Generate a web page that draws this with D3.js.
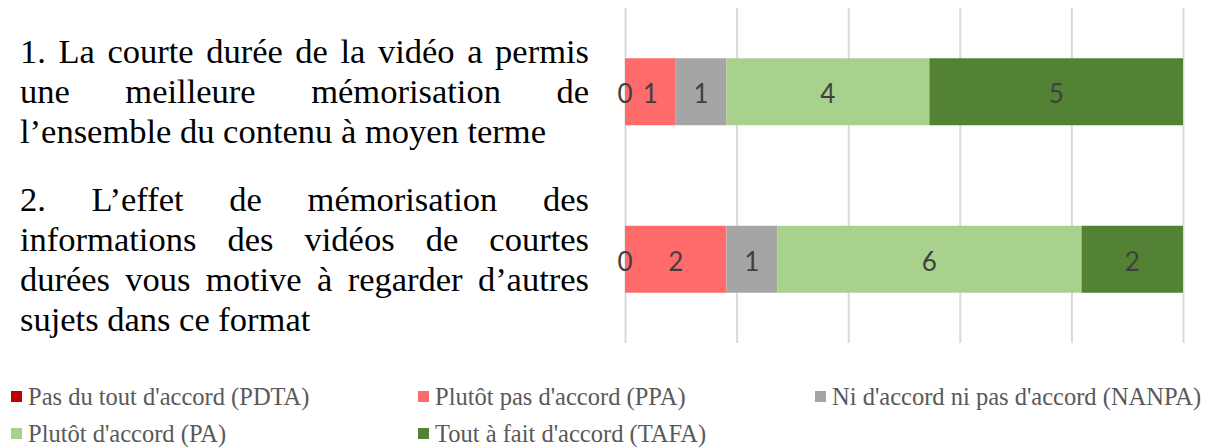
<!DOCTYPE html>
<html>
<head>
<meta charset="utf-8">
<script src="https://cdn.jsdelivr.net/npm/d3@7"></script>
<style>
	body { margin: 0; background: #fff; }
	svg { display: block; }
</style>
</head>
<body>
<div id="chart"></div>
<script>
// questions (left text, already split in lines as in the picture)
const questionLines = [
	['1. La courte durée de la vidéo a permis', 'une meilleure mémorisation de', 'l’ensemble du contenu à moyen terme'],
	['2. L’effet de mémorisation des', 'informations des vidéos de courtes', 'durées vous motive à regarder d’autres', 'sujets dans ce format']
];
const questionIds = ['Q1', 'Q2'];

// answers
const seriesNames = ["Pas du tout d'accord (PDTA)", "Plutôt pas d'accord (PPA)", "Ni d'accord ni pas d'accord (NANPA)", "Plutôt d'accord (PA)", "Tout à fait d'accord (TAFA)"];
const seriesKeys = ['PDTA', 'PPA', 'NANPA', 'PA', 'TAFA'];
const pdta = [0, 0];
const ppa = [1, 2];
const nanpa = [1, 1];
const pa = [4, 6];
const tafa = [5, 2];
const gridTicks = [0, 20, 40, 60, 80, 100];

const colors = ['#c00000', '#ff6b6b', '#a5a5a5', '#a9d18e', '#548235'];

const W = 1218;
const H = 448;

const svg = d3
	.select('#chart')
	.append('svg')
	.attr('width', W)
	.attr('height', H);

// build rows as percentages (100% stacked)
const rows = questionIds.map((q, i) => {
	const row = { id: q, PDTA: pdta[i], PPA: ppa[i], NANPA: nanpa[i], PA: pa[i], TAFA: tafa[i] };
	row.total = pdta[i] + ppa[i] + nanpa[i] + pa[i] + tafa[i];
	return row;
});

const stacked = d3.stack().keys(seriesKeys).value((d, k) => d[k] / d.total * 100)(rows);

const xScale = d3.scaleLinear().domain([ 0, 100 ]).range([ 625, 1183 ]);
const yScale = d3.scaleBand().domain(questionIds).range([ 8, 343 ]).paddingInner(0.6).paddingOuter(0.3);

// gridlines
svg
	.append('g')
	.selectAll('line')
	.data(gridTicks)
	.join('line')
	.attr('x1', (d) => xScale(d) + 0.5)
	.attr('x2', (d) => xScale(d) + 0.5)
	.attr('y1', 8)
	.attr('y2', 343)
	.style('stroke', '#d9d9d9')
	.style('stroke-width', 2);

// bars
const layers = svg
	.append('g')
	.selectAll('g')
	.data(stacked)
	.join('g')
	.attr('fill', (d, i) => colors[i]);

layers
	.selectAll('rect')
	.data((d) => d)
	.join('rect')
	.attr('x', (d) => xScale(d[0]))
	.attr('y', (d) => yScale(d.data.id))
	.attr('width', (d) => xScale(d[1]) - xScale(d[0]))
	.attr('height', yScale.bandwidth());

// value labels
svg
	.append('g')
	.selectAll('g')
	.data(stacked)
	.join('g')
	.selectAll('text')
	.data((d) => d.map((v) => ({ v: v, key: d.key })))
	.join('text')
	.attr('x', (d) => (xScale(d.v[0]) + xScale(d.v[1])) / 2)
	.attr('y', (d) => yScale(d.v.data.id) + yScale.bandwidth() / 2)
	.attr('dy', '0.45em')
	.attr('text-anchor', 'middle')
	.style('font-family', 'Lato, "Open Sans", sans-serif')
	.style('font-size', '26px')
	.style('fill', '#404040')
	.text((d) => d.v.data[d.key]);

// question text, justified
const textLeft = 20;
const textRight = 589;
const baselines = [[63, 103, 143], [211, 251, 291, 331]];

questionLines.forEach((lines, p) => {
	lines.forEach((line, l) => {
		const words = line.split(' ');
		const t = svg
			.append('text')
			.attr('y', baselines[p][l])
			.style('font-family', '"Liberation Serif", "Times New Roman", serif')
			.style('font-size', '34.5px')
			.style('fill', '#000');
		const last = l === lines.length - 1;
		if (last) {
			t.attr('x', textLeft).text(line);
			return;
		}
		const spans = words.map((w) => t.append('tspan').text(w));
		const widths = spans.map((s) => s.node().getComputedTextLength());
		const gap = (textRight - textLeft - d3.sum(widths)) / (words.length - 1);
		let x = textLeft;
		spans.forEach((s, i) => {
			s.attr('x', x);
			x += widths[i] + gap;
		});
	});
});

// legend
const legendPos = [[11, 397], [418, 397], [815, 397], [11, 434], [418, 434]];

const legend = svg
	.append('g')
	.selectAll('g')
	.data(seriesNames)
	.join('g')
	.attr('transform', (d, i) => `translate(${legendPos[i][0]}, ${legendPos[i][1]})`);

legend
	.append('rect')
	.attr('x', 0)
	.attr('y', -6)
	.attr('width', 11)
	.attr('height', 11)
	.attr('fill', (d, i) => colors[i]);

legend
	.append('text')
	.attr('x', 17)
	.attr('dy', '0.32em')
	.style('font-family', '"Liberation Serif", "Times New Roman", serif')
	.style('font-size', '24.5px')
	.style('fill', '#595959')
	.text((d) => d);
</script>
</body>
</html>
